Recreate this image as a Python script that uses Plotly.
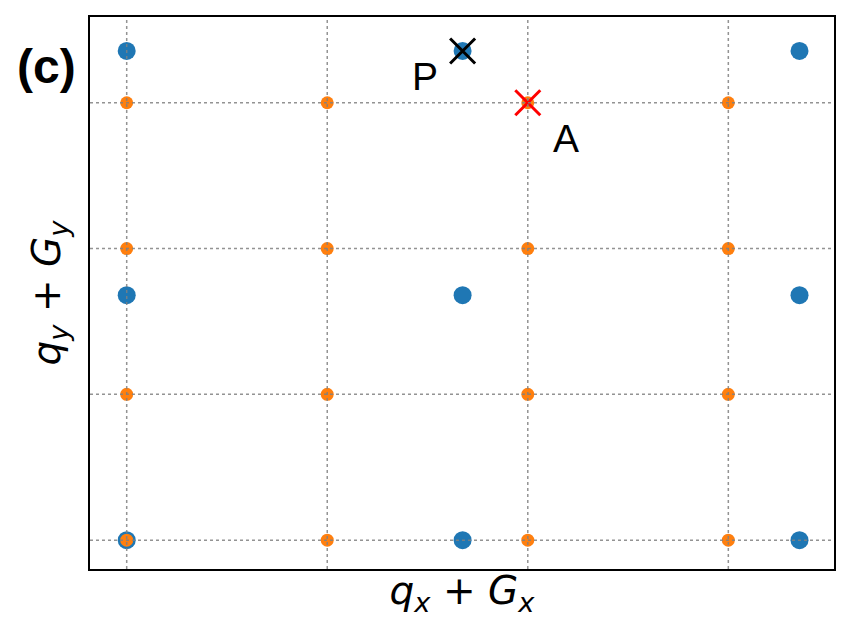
import plotly.graph_objects as go

# reciprocal lattice points (blue) and grid points (orange), in grid units
blue_x = [0, 1.675, 3.355, 0, 1.675, 3.355, 0, 1.675, 3.355]
blue_y = [3.355, 3.355, 3.355, 1.68, 1.68, 1.68, 0, 0, 0]

grid_x = [0, 1, 2, 3]
grid_y = [0, 1, 2, 3]
orange_x = [x for y in grid_y for x in grid_x]
orange_y = [y for y in grid_y for x in grid_x]

# special points
P_x, P_y = 1.675, 3.355
A_x, A_y = 2, 3

x_range = [-0.183, 3.527]
y_range = [-0.198, 3.588]

fig = go.Figure()

fig.add_trace(go.Scatter(
    x=blue_x, y=blue_y, mode='markers',
    marker=dict(color='#1f77b4', size=18, line=dict(width=0)),
    showlegend=False,
))
fig.add_trace(go.Scatter(
    x=orange_x, y=orange_y, mode='markers',
    marker=dict(color='#ff7f0e', size=13, line=dict(width=0)),
    showlegend=False,
))
fig.add_trace(go.Scatter(
    x=[P_x], y=[P_y], mode='markers',
    marker=dict(symbol='x-thin', color='black', size=25, line=dict(width=3, color='black')),
    showlegend=False,
))
fig.add_trace(go.Scatter(
    x=[A_x], y=[A_y], mode='markers',
    marker=dict(symbol='x-thin', color='red', size=25, line=dict(width=3, color='red')),
    showlegend=False,
))

# dotted grid drawn on top of the points, like the original
for gx in grid_x:
    fig.add_shape(type='line', xref='x', yref='paper', x0=gx, x1=gx, y0=0, y1=1,
                  line=dict(color='rgba(128,128,128,0.85)', width=1.5, dash='dot'), layer='above')
for gy in grid_y:
    fig.add_shape(type='line', xref='paper', yref='y', x0=0, x1=1, y0=gy, y1=gy,
                  line=dict(color='rgba(128,128,128,0.85)', width=1.5, dash='dot'), layer='above')

fig.add_annotation(x=P_x, y=P_y, text='P', showarrow=False, xshift=-38, yshift=-26,
                   font=dict(family='Liberation Sans, Arial', size=39, color='black'))
fig.add_annotation(x=A_x, y=A_y, text='A', showarrow=False, xshift=38, yshift=-36,
                   font=dict(family='Liberation Sans, Arial', size=39, color='black'))
fig.add_annotation(xref='paper', yref='paper', x=-0.059, y=0.91, text='<b>(c)</b>',
                   showarrow=False, xanchor='center', yanchor='middle',
                   font=dict(family='Liberation Sans, Arial', size=48, color='black'))

fig.update_xaxes(
    range=x_range, showgrid=False, zeroline=False, showticklabels=False, ticks='',
    showline=True, linecolor='black', linewidth=1.5, mirror=True,
    title=dict(text='<i>q</i><sub><i>x</i></sub> + <i>G</i><sub><i>x</i></sub>',
               font=dict(family='DejaVu Sans', size=39, color='black'), standoff=7),
)
fig.update_yaxes(
    range=y_range, showgrid=False, zeroline=False, showticklabels=False, ticks='',
    showline=True, linecolor='black', linewidth=1.5, mirror=True,
    title=dict(text='<i>q</i><sub><i>y</i></sub> + <i>G</i><sub><i>y</i></sub>',
               font=dict(family='DejaVu Sans', size=39, color='black'), standoff=16),
)

# the page body adds an 8px offset, so the figure is sized to land the frame where the original has it
fig.update_layout(
    width=842, height=625,
    margin=dict(l=82, r=16, t=7, b=64),
    plot_bgcolor='white', paper_bgcolor='white',
)

fig.write_html('out.html')
